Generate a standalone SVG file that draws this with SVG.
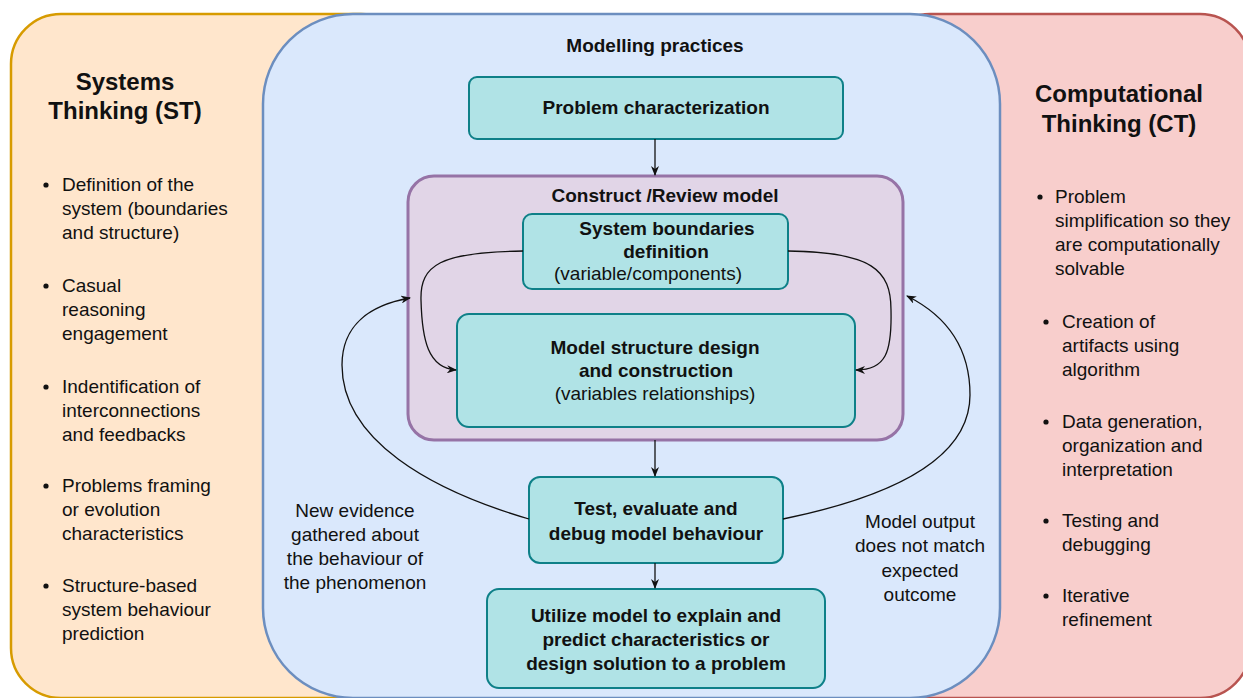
<svg xmlns="http://www.w3.org/2000/svg" width="1243" height="698" viewBox="0 0 1243 698">
<style>
text{font-family:"Liberation Sans",Arial,sans-serif;fill:#111;}
.h{font-size:24px;font-weight:bold;text-anchor:middle;}
.b{font-size:19px;}
.t{font-size:19px;font-weight:bold;text-anchor:middle;}
.n{font-size:19px;text-anchor:middle;}
.box{fill:#b0e3e6;stroke:#0e8088;stroke-width:2;}
.con{fill:none;stroke:#111;stroke-width:1.3;}
</style>
<defs>
<marker id="arr" viewBox="0 0 10 8" refX="9" refY="4" markerWidth="10" markerHeight="8" markerUnits="userSpaceOnUse" orient="auto">
<path d="M0,0 L10,4 L0,8 L3,4 z" fill="#111"/>
</marker>
</defs>
<g id="st-panel">
<rect x="11" y="14" width="400" height="684" rx="50" fill="#ffe6cc" stroke="#d79b00" stroke-width="2.5"/>
</g>
<g id="ct-panel">
<rect x="880" y="14" width="370" height="684" rx="50" fill="#f8cecc" stroke="#b85450" stroke-width="2.5"/>
</g>
<g id="modelling-panel">
<rect x="263" y="14" width="737" height="684" rx="90" fill="#dae8fc" stroke="#6c8ebf" stroke-width="2.5"/>
<text class="t" x="655" y="52">Modelling practices</text>
</g>
<g id="st-text">
<text class="h" x="125" y="90">Systems</text>
<text class="h" x="125" y="119">Thinking (ST)</text>
<g class="b">
<circle cx="46" cy="185" r="2.6" fill="#111"/>
<text class="b" x="62" y="191">Definition of the</text>
<text class="b" x="62" y="215">system (boundaries</text>
<text class="b" x="62" y="239">and structure)</text>
<circle cx="46" cy="286" r="2.6" fill="#111"/>
<text class="b" x="62" y="292">Casual</text>
<text class="b" x="62" y="316">reasoning</text>
<text class="b" x="62" y="340">engagement</text>
<circle cx="46" cy="387" r="2.6" fill="#111"/>
<text class="b" x="62" y="393">Indentification of</text>
<text class="b" x="62" y="417">interconnections</text>
<text class="b" x="62" y="441">and feedbacks</text>
<circle cx="46" cy="486" r="2.6" fill="#111"/>
<text class="b" x="62" y="492">Problems framing</text>
<text class="b" x="62" y="516">or evolution</text>
<text class="b" x="62" y="540">characteristics</text>
<circle cx="46" cy="586" r="2.6" fill="#111"/>
<text class="b" x="62" y="592">Structure-based</text>
<text class="b" x="62" y="616">system behaviour</text>
<text class="b" x="62" y="640">prediction</text>
</g>
</g>
<g id="ct-text">
<text class="h" x="1119" y="102">Computational</text>
<text class="h" x="1119" y="132">Thinking (CT)</text>
<circle cx="1040" cy="197" r="2.6" fill="#111"/>
<text class="b" x="1055" y="203">Problem</text>
<text class="b" x="1055" y="227">simplification so they</text>
<text class="b" x="1055" y="251">are computationally</text>
<text class="b" x="1055" y="275">solvable</text>
<circle cx="1046" cy="322" r="2.6" fill="#111"/>
<text class="b" x="1062" y="328">Creation of</text>
<text class="b" x="1062" y="352">artifacts using</text>
<text class="b" x="1062" y="376">algorithm</text>
<circle cx="1046" cy="422" r="2.6" fill="#111"/>
<text class="b" x="1062" y="428">Data generation,</text>
<text class="b" x="1062" y="452">organization and</text>
<text class="b" x="1062" y="476">interpretation</text>
<circle cx="1046" cy="521" r="2.6" fill="#111"/>
<text class="b" x="1062" y="527">Testing and</text>
<text class="b" x="1062" y="551">debugging</text>
<circle cx="1046" cy="596" r="2.6" fill="#111"/>
<text class="b" x="1062" y="602">Iterative</text>
<text class="b" x="1062" y="626">refinement</text>
</g>
<g id="problem-characterization">
<rect class="box" x="469" y="77" width="374" height="62" rx="8"/>
<text class="t" x="656" y="114">Problem characterization</text>
</g>
<g id="construct-review">
<rect x="408" y="176" width="495" height="264" rx="26" fill="#e1d5e7" stroke="#9673a6" stroke-width="3"/>
<text class="t" x="665" y="202">Construct /Review model</text>
</g>
<g id="system-boundaries">
<rect class="box" x="523" y="214" width="265" height="75" rx="9"/>
<text class="t" x="667" y="235">System boundaries</text>
<text class="t" x="666" y="258">definition</text>
<text class="n" x="648" y="280">(variable/components)</text>
</g>
<g id="model-structure">
<rect class="box" x="457" y="314" width="398" height="113" rx="12"/>
<text class="t" x="655" y="354">Model structure design</text>
<text class="t" x="656" y="377">and construction</text>
<text class="n" x="655" y="400">(variables relationships)</text>
</g>
<g id="test-evaluate">
<rect class="box" x="529" y="477" width="254" height="86" rx="11"/>
<text class="t" x="656" y="515">Test, evaluate and</text>
<text class="t" x="656" y="540">debug model behaviour</text>
</g>
<g id="utilize-model">
<rect class="box" x="487" y="589" width="338" height="99" rx="12"/>
<text class="t" x="656" y="622">Utilize model to explain and</text>
<text class="t" x="656" y="646">predict characteristics or</text>
<text class="t" x="656" y="670">design solution to a problem</text>
</g>
<g id="label-left">
<text class="n" x="355" y="517">New evidence</text>
<text class="n" x="355" y="541">gathered about</text>
<text class="n" x="355" y="565">the behaviour of</text>
<text class="n" x="355" y="589">the phenomenon</text>
</g>
<g id="label-right">
<text class="n" x="920" y="528">Model output</text>
<text class="n" x="920" y="552">does not match</text>
<text class="n" x="920" y="577">expected</text>
<text class="n" x="920" y="601">outcome</text>
</g>
<g id="connectors">
<path class="con" d="M655,139 L655,175" marker-end="url(#arr)"/>
<path class="con" d="M655,440 L655,476" marker-end="url(#arr)"/>
<path class="con" d="M655,563 L655,588" marker-end="url(#arr)"/>
<path class="con" d="M523,251 C440,252 420,265 421,300 C422,340 428,368 456,370" marker-end="url(#arr)"/>
<path class="con" d="M788,251 C872,252 891,270 891,310 C892,352 886,370 856,370" marker-end="url(#arr)"/>
<path class="con" d="M529,519 C430,490 342,440 342,365 C342,325 370,305 410,298" marker-end="url(#arr)"/>
<path class="con" d="M783,519 C900,495 970,455 970,395 C970,345 945,315 907,296" marker-end="url(#arr)"/>
</g>
</svg>
